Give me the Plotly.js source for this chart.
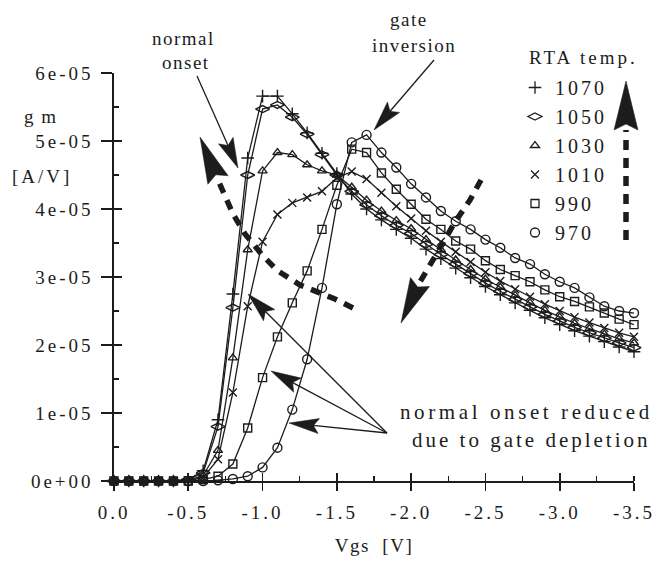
<!DOCTYPE html>
<html><head><meta charset="utf-8">
<script src="https://cdn.plot.ly/plotly-3.0.1.min.js"></script>
<style>
html,body{margin:0;padding:0;background:#fff;}
#chart{width:660px;height:561px;}
text{letter-spacing:3px;}
.annotation[data-index="0"] text,.annotation[data-index="1"] text,
.annotation[data-index="2"] text,.annotation[data-index="3"] text,
.annotation[data-index="8"] text{letter-spacing:1.5px;}
.annotation[data-index="4"] text{letter-spacing:3.6px;}
.g-xtitle text{letter-spacing:1.5px;}
</style></head><body><div id="chart"></div>
<script>
// ---- data (gm in units of 1e-05 A/V) ----
const vgs = [0.0,-0.1,-0.2,-0.3,-0.4,-0.5,-0.6,-0.7,-0.8,-0.9,-1.0,-1.1,-1.2,-1.3,-1.4,-1.5,-1.6,-1.7,-1.8,-1.9,-2.0,-2.1,-2.2,-2.3,-2.4,-2.5,-2.6,-2.7,-2.8,-2.9,-3.0,-3.1,-3.2,-3.3,-3.4,-3.5];
const gm1070 = [0,0,0,0,0,0.02,0.15,0.90,2.75,4.75,5.66,5.66,5.40,5.12,4.82,4.52,4.22,4.00,3.84,3.70,3.57,3.41,3.27,3.13,2.99,2.86,2.74,2.62,2.51,2.40,2.30,2.21,2.13,2.05,1.97,1.90];
const gm1050 = [0,0,0,0,0,0.02,0.12,0.80,2.55,4.50,5.47,5.53,5.35,5.10,4.80,4.50,4.26,4.06,3.90,3.76,3.64,3.48,3.33,3.19,3.05,2.91,2.79,2.67,2.56,2.45,2.35,2.26,2.18,2.10,2.03,1.96];
const gm1030 = [0,0,0,0,0,0.01,0.08,0.45,1.81,3.40,4.56,4.83,4.80,4.65,4.56,4.50,4.32,4.13,3.97,3.83,3.71,3.55,3.40,3.25,3.11,2.97,2.85,2.73,2.62,2.51,2.41,2.32,2.24,2.16,2.09,2.03];
const gm1010 = [0,0,0,0,0,0.01,0.05,0.32,1.30,2.57,3.52,3.92,4.09,4.17,4.26,4.46,4.55,4.44,4.24,4.04,3.86,3.68,3.52,3.37,3.22,3.07,2.94,2.82,2.71,2.60,2.50,2.41,2.33,2.25,2.18,2.12];
const gm990  = [0,0,0,0,0,0,0.02,0.07,0.25,0.78,1.52,2.12,2.62,3.09,3.70,4.35,4.88,4.83,4.53,4.29,4.07,3.85,3.70,3.53,3.41,3.24,3.11,3.02,2.93,2.81,2.71,2.64,2.56,2.47,2.38,2.30];
const gm970  = [0,0,0,0,0,0,0,0.01,0.03,0.07,0.20,0.49,1.05,1.79,2.84,4.07,4.98,5.09,4.83,4.61,4.37,4.17,3.97,3.82,3.70,3.55,3.43,3.28,3.19,3.04,2.93,2.84,2.70,2.57,2.50,2.47];
const seriesNames = ['1070','1050','1030','1010','990','970'];
const xTickVals = [0,-0.5,-1.0,-1.5,-2.0,-2.5,-3.0,-3.5];
const xTickText = ['0.0','-0.5','-1.0','-1.5','-2.0','-2.5','-3.0','-3.5'];
const yTickVals = [0,1,2,3,4,5,6];
const yTickText = ['0e+00','1e-05','2e-05','3e-05','4e-05','5e-05','6e-05'];

// ---- style ----
const INK = '#1c1c1c';
const FONT = 'Liberation Serif, Times New Roman, serif';
const W=660,H=561,L=114,R=26,T=73,B=80, PW=W-L-R, PH=H-T-B;
const seriesY = [gm1070,gm1050,gm1030,gm1010,gm990,gm970];
const symbols = ['cross-thin-open','diamond-wide-open','triangle-up-open','x-thin-open','square-open','circle-open'];
const sizes = [9,10,8,8,8,9];

const traces = [];
seriesY.forEach((ys,i)=>{
  traces.push({x:vgs, y:ys, type:'scatter', mode:'lines+markers', name:seriesNames[i], showlegend:false,
    cliponaxis:false, hoverinfo:'skip',
    line:{color:INK,width:1.3},
    marker:{symbol:symbols[i], size:sizes[i], color:INK, line:{color:INK,width:1.4}}});
});
seriesY.forEach((ys,i)=>{
  traces.push({x:[null], y:[null], type:'scatter', mode:'markers', name:seriesNames[i], showlegend:true,
    marker:{symbol:symbols[i], size:sizes[i], color:INK, line:{color:INK,width:1.3}}});
});
// helper traces so the overlay tick axes are drawn
traces.push({x:[null],y:[null],xaxis:'x2',yaxis:'y',showlegend:false,hoverinfo:'skip'});
traces.push({x:[null],y:[null],xaxis:'x',yaxis:'y2',showlegend:false,hoverinfo:'skip'});

// ---- pixel -> paper helpers for decorations ----
function P(x,y){return [(x-L)/PW,(H-B-y)/PH];}
function pathFrom(pts,close){
  return pts.map((p,i)=>{const q=P(p[0],p[1]);return (i?'L':'M')+q[0].toFixed(5)+','+q[1].toFixed(5);}).join(' ')+(close?' Z':'');
}
function head(tip,base,w,notch){
  const dx=tip[0]-base[0],dy=tip[1]-base[1],len=Math.hypot(dx,dy),ux=dx/len,uy=dy/len,nx=-uy,ny=ux;
  const c1=[base[0]+nx*w/2,base[1]+ny*w/2],c2=[base[0]-nx*w/2,base[1]-ny*w/2];
  const nt=[base[0]+ux*len*notch,base[1]+uy*len*notch];
  return {type:'path',xref:'paper',yref:'paper',path:pathFrom([c1,tip,c2,nt],true),fillcolor:INK,line:{color:INK,width:0.5}};
}
function solidArrow(tail,tip,hl,w){
  const dx=tip[0]-tail[0],dy=tip[1]-tail[1],len=Math.hypot(dx,dy);
  const base=[tip[0]-dx/len*hl,tip[1]-dy/len*hl];
  const endp=[tip[0]-dx/len*hl*0.8,tip[1]-dy/len*hl*0.8];
  return [{type:'path',xref:'paper',yref:'paper',path:pathFrom([tail,endp]),line:{color:INK,width:1.3}},head(tip,base,w,0.18)];
}
function dashedArrow(pts,tip,w){
  const base=pts[pts.length-1];
  return [{type:'path',xref:'paper',yref:'paper',path:pathFrom(pts),line:{color:INK,width:5.5,dash:'10px,8px'}},head(tip,base,w,0.12)];
}
let shapes = [];
shapes = shapes.concat(solidArrow([197,76],[238,168],30,16));
shapes = shapes.concat(solidArrow([434,60],[374,130],30,16));
shapes = shapes.concat(solidArrow([387,433],[248,294],30,16));
shapes = shapes.concat(solidArrow([387,433],[271,371],30,16));
shapes = shapes.concat(solidArrow([387,433],[289,423],30,15));
shapes = shapes.concat(dashedArrow([[626,240],[626,130]],[626,81],24));
shapes = shapes.concat(dashedArrow([[353,308],[335,299],[300,285],[278,271],[263,256],[245,234],[233,214],[218,180]],[200,137],22));
shapes = shapes.concat(dashedArrow([[481,180],[470,200],[455,222],[440,248],[420,282]],[401,323],21));

function ann(text,x,y,size,anchor){
  const p=P(x,y);
  return {text:text,x:p[0],y:p[1],xref:'paper',yref:'paper',showarrow:false,xanchor:anchor||'left',yanchor:'middle',align:'left',
    font:{family:FONT,size:size,color:INK}};
}
const annotations = [
  ann('normal',150,38,19), ann('onset',160,62,19),
  ann('gate',388,19,19), ann('inversion',370,45,19),
  ann('normal onset reduced',398,412,21), ann('due to gate depletion',410,440,21),
  ann('RTA temp.',527,58,19),
  ann('[A/V]',10,176,19),
  ann('g m',22,117,19)
];

const axisFont = {family:FONT,size:19,color:INK};
const layout = {
  width:W,height:H,margin:{l:L,r:R,t:T,b:B},paper_bgcolor:'#fff',plot_bgcolor:'#fff',
  showlegend:true,
  legend:{x:(515-L)/PW,y:(H-B-68)/PH,xanchor:'left',yanchor:'top',bgcolor:'rgba(0,0,0,0)',
    font:{family:FONT,size:20,color:INK},itemwidth:30,tracegroupgap:0},
  xaxis:{range:[0,-3.5],tickmode:'array',tickvals:xTickVals,ticktext:xTickText,ticks:'outside',ticklen:8,tickwidth:1.6,tickcolor:INK,
    showline:true,linecolor:INK,linewidth:1.6,showgrid:false,zeroline:false,tickfont:axisFont,ticklabelstandoff:6,
    minor:{ticks:'inside',ticklen:5,tickwidth:1.2,tickcolor:INK,tickmode:'linear',tick0:0,dtick:0.25,showgrid:false},
    title:{text:'Vgs  [V]',font:{family:FONT,size:19,color:INK},standoff:16},fixedrange:true},
  xaxis2:{range:[0,-3.5],overlaying:'x',anchor:'y',side:'bottom',tickmode:'array',tickvals:xTickVals,ticks:'inside',ticklen:8,tickwidth:1.6,tickcolor:INK,
    showticklabels:false,showline:false,showgrid:false,zeroline:false},
  yaxis:{range:[0,6],tickmode:'array',tickvals:yTickVals,ticktext:yTickText,ticks:'outside',ticklen:11,tickwidth:1.6,tickcolor:INK,
    showline:true,linecolor:INK,linewidth:1.6,showgrid:false,zeroline:false,tickfont:axisFont,ticklabelstandoff:4,fixedrange:true},
  yaxis2:{range:[0,6],overlaying:'y',anchor:'x',side:'left',tickmode:'array',tickvals:yTickVals,ticks:'inside',ticklen:8,tickwidth:1.6,tickcolor:INK,
    showticklabels:false,showline:false,showgrid:false,zeroline:false,
    minor:{ticks:'inside',ticklen:5,tickwidth:1.2,tickcolor:INK,tickmode:'linear',tick0:0,dtick:0.5,showgrid:false}},
  shapes:shapes,
  annotations:annotations
};
Plotly.newPlot('chart',traces,layout,{displayModeBar:false,staticPlot:true});
</script></body></html>
